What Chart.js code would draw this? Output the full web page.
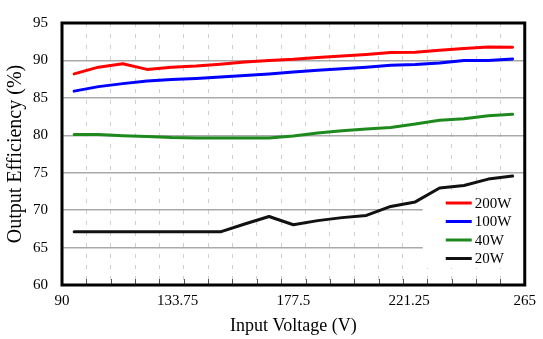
<!DOCTYPE html>
<html>
<head>
<meta charset="utf-8">
<title>Output Efficiency vs Input Voltage</title>
<script src="https://cdn.jsdelivr.net/npm/chart.js@4.4.0/dist/chart.umd.min.js"></script>
<style>
  html, body { margin: 0; padding: 0; background: #fff; }
  #wrap { position: relative; width: 543px; height: 339px; }
</style>
</head>
<body>
<div id="wrap"><canvas id="effChart" width="543" height="339"></canvas></div>
<script>
// ── Data ─────────────────────────────────────────────────────────────────
const voltages = [94.6, 103.8, 113.0, 122.2, 131.4, 140.7, 149.9, 159.1, 168.3, 177.5,
                  186.7, 195.9, 205.1, 214.3, 223.6, 232.8, 242.0, 251.2, 260.4];
const eff200W = [88.2, 89.1, 89.55, 88.8, 89.1, 89.25, 89.5, 89.8, 90.0, 90.15,
                 90.4, 90.6, 90.8, 91.05, 91.1, 91.35, 91.6, 91.8, 91.75];
const eff100W = [85.9, 86.5, 86.9, 87.25, 87.45, 87.6, 87.8, 88.0, 88.2, 88.45,
                 88.7, 88.9, 89.1, 89.35, 89.45, 89.65, 90.0, 90.0, 90.2];
const eff40W  = [80.1, 80.1, 79.95, 79.85, 79.7, 79.65, 79.65, 79.65, 79.65, 79.9,
                 80.3, 80.6, 80.85, 81.05, 81.5, 82.0, 82.2, 82.6, 82.8];
const eff20W  = [67.1, 67.1, 67.1, 67.1, 67.1, 67.1, 67.1, 68.15, 69.15, 68.05,
                 68.6, 69.0, 69.3, 70.5, 71.1, 72.95, 73.3, 74.15, 74.55];

const seriesLabels = ['200W', '100W', '40W', '20W'];
const seriesColors = ['#ff0000', '#0000ff', '#1e8a1e', '#111111'];

// axis ticks
const xLabelTicks = [90, 133.75, 177.5, 221.25, 265];
const xMinorTicks = [90, 99.21, 108.42, 117.63, 126.84, 136.05, 145.26, 154.47, 163.68, 172.89,
                     182.11, 191.32, 200.53, 209.74, 218.95, 228.16, 237.37, 246.58, 255.79, 265];
const yMin = 60, yMax = 95, yStep = 5;

const serif = 'Liberation Serif, Times New Roman, serif';

function toPoints(values) {
    return values.map((v, i) => ({ x: voltages[i], y: v }));
}

// ── Frame, inner tick marks and in-plot legend ────────────────────────────
const frameAndLegend = {
    id: 'frameAndLegend',
    beforeDatasetsDraw(chart) {
        const { ctx, chartArea: a } = chart;
        const minor = chart.scales.xMinor;
        ctx.save();
        // small tick marks standing on the bottom edge
        ctx.strokeStyle = '#555';
        ctx.lineWidth = 1;
        xMinorTicks.forEach(v => {
            const px = Math.round(minor.getPixelForValue(v)) + 0.5;
            ctx.beginPath();
            ctx.moveTo(px, a.bottom);
            ctx.lineTo(px, a.bottom - 6);
            ctx.stroke();
        });
        // white legend background hides the gridlines behind it
        ctx.fillStyle = '#fff';
        ctx.fillRect(a.right - 102, a.bottom - 95, 102, 78);
        ctx.restore();
    },
    afterDatasetsDraw(chart) {
        const { ctx, chartArea: a } = chart;
        ctx.save();
        // heavy box round the plot
        ctx.strokeStyle = '#000';
        ctx.lineWidth = 3;
        ctx.strokeRect(a.left, a.top, a.right - a.left, a.bottom - a.top);

        // legend entries
        ctx.font = '15px ' + serif;
        ctx.textBaseline = 'middle';
        ctx.fillStyle = '#000';
        chart.data.datasets.forEach((ds, i) => {
            const y = a.bottom - 82 + i * 18.5;
            ctx.strokeStyle = ds.borderColor;
            ctx.lineWidth = 3;
            ctx.beginPath();
            ctx.moveTo(a.right - 79, y);
            ctx.lineTo(a.right - 53, y);
            ctx.stroke();
            ctx.fillText(ds.label, a.right - 50, y + 1);
        });
        ctx.restore();
    }
};

const ctx = document.getElementById('effChart').getContext('2d');
window.effChart = new Chart(ctx, {
    type: 'line',
    data: {
        datasets: [eff200W, eff100W, eff40W, eff20W].map((vals, i) => ({
            label: seriesLabels[i],
            data: toPoints(vals),
            borderColor: seriesColors[i],
            backgroundColor: seriesColors[i],
            borderWidth: 3,
            pointRadius: 0,
            tension: 0,
            fill: false,
            borderJoinStyle: 'round',
            borderCapStyle: 'round'
        }))
    },
    options: {
        responsive: false,
        animation: false,
        devicePixelRatio: 1,
        layout: { padding: { top: 13, right: 10, left: 0, bottom: 0 } },
        plugins: {
            legend: { display: false },
            tooltip: { enabled: false }
        },
        scales: {
            x: {
                type: 'linear',
                position: 'bottom',
                min: 90,
                max: 265,
                afterBuildTicks: s => { s.ticks = xLabelTicks.map(v => ({ value: v })); },
                afterFit: s => { s.height = 54; },
                grid: { display: false, drawTicks: false },
                border: { display: false },
                ticks: {
                    autoSkip: false,
                    maxRotation: 0,
                    padding: 7,
                    color: '#000',
                    font: { family: serif, size: 15 },
                    callback: v => String(v)
                },
                title: {
                    display: true,
                    text: 'Input Voltage (V)',
                    color: '#000',
                    font: { family: serif, size: 18 },
                    padding: { top: 0, bottom: 2 }
                }
            },
            xMinor: {
                type: 'linear',
                position: 'bottom',
                min: 90,
                max: 265,
                afterBuildTicks: s => { s.ticks = xMinorTicks.map(v => ({ value: v })); },
                afterFit: s => { s.height = 0; },
                ticks: { display: false },
                grid: { color: '#cfcfcf', lineWidth: 1, drawTicks: false },
                border: { display: false, dash: [4, 7] }
            },
            y: {
                min: yMin,
                max: yMax,
                afterFit: s => { s.width = 62; },
                ticks: {
                    stepSize: yStep,
                    padding: 14,
                    color: '#000',
                    font: { family: serif, size: 15 }
                },
                grid: { color: '#a9a9a9', lineWidth: 1.5, drawTicks: false },
                border: { display: false },
                title: {
                    display: true,
                    text: 'Output Efficiency (%)',
                    color: '#000',
                    font: { family: serif, size: 20 },
                    padding: { top: 4, bottom: 0 }
                }
            }
        }
    },
    plugins: [frameAndLegend]
});
</script>
</body>
</html>
